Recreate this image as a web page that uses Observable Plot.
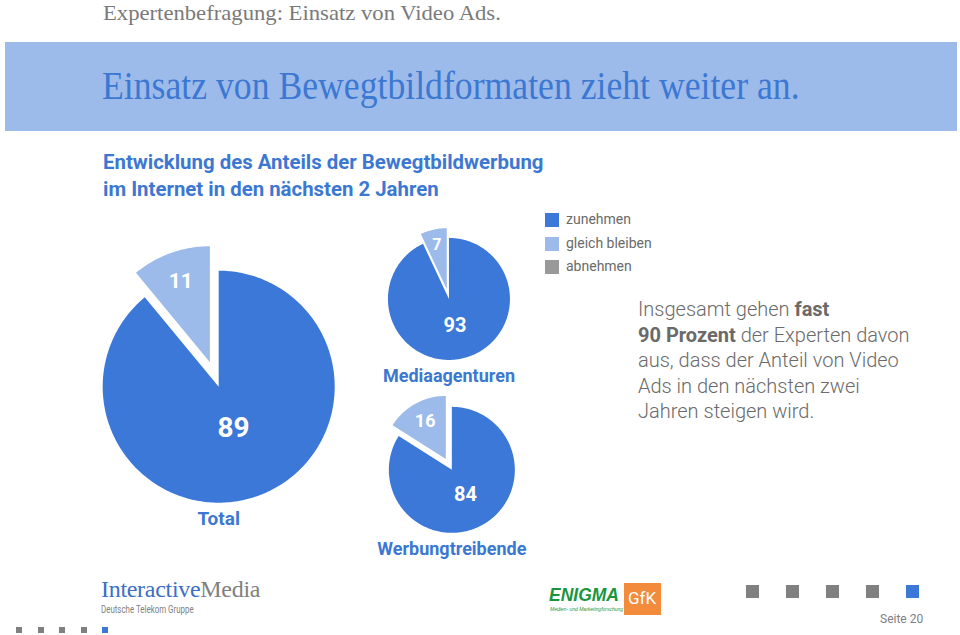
<!DOCTYPE html>
<html>
<head>
<meta charset="utf-8">
<script src="https://cdn.jsdelivr.net/npm/d3@7"></script>
<script src="https://cdn.jsdelivr.net/npm/@observablehq/plot@0.6"></script>
<style>
  html, body { margin: 0; padding: 0; background: #fff; }
  #page { position: relative; width: 960px; height: 635px; overflow: hidden; background: #fff; }
  .abs { position: absolute; white-space: nowrap; }
  .serif { font-family: "Liberation Serif", "DejaVu Serif", serif; }
  .narrow { font-family: "Liberation Sans Narrow", "Roboto", "Liberation Sans", sans-serif; }
  .sans { font-family: "Roboto", "Liberation Sans", sans-serif; }
  .pie svg { background: transparent; }
</style>
</head>
<body>
<div id="page">
  <div class="abs serif" style="left:103px;top:0px;font-size:22px;color:#7a7a7a;transform:scaleX(1.03);transform-origin:left;">Expertenbefragung: Einsatz von Video Ads.</div>
  <div class="abs" style="left:5px;top:42px;width:952px;height:89px;background:#9dbbea;"></div>
  <div class="abs serif" style="left:102px;top:63px;font-size:39px;color:#3c78d2;transform:scaleX(0.915);transform-origin:left;">Einsatz von Bewegtbildformaten zieht weiter an.</div>

  <div class="abs narrow" style="left:103px;top:149px;font-size:20.4px;font-weight:bold;color:#3c78d2;line-height:27px;">Entwicklung des Anteils der Bewegtbildwerbung<br>im Internet in den nächsten 2 Jahren</div>

  <div id="legend"></div>

  <div class="abs sans" style="left:638px;top:297px;font-size:20px;font-weight:300;color:#6a6a6a;line-height:25.5px;">Insgesamt gehen <b style="font-weight:bold;">fast</b><br><b style="font-weight:bold;">90 Prozent</b> der Experten davon<br>aus, dass der Anteil von Video<br>Ads in den nächsten zwei<br>Jahren steigen wird.</div>

  <div id="pies"></div>

  <!-- footer -->
  <div class="abs serif" style="left:101px;top:579px;font-size:24px;line-height:20px;letter-spacing:-0.3px;"><span style="color:#3c6fc6;">Interactive</span><span style="color:#808080;">Media</span></div>
  <div class="abs sans" style="left:101px;top:603px;font-size:11px;line-height:13px;color:#808080;transform:scaleX(0.72);transform-origin:left;">Deutsche Telekom Gruppe</div>
  <div class="abs" style="left:549px;top:585px;font-family:'Liberation Sans',sans-serif;font-size:17.5px;line-height:20px;font-weight:bold;font-style:italic;color:#19963c;">ENIGMA</div>
  <div class="abs" style="left:550px;top:606px;font-family:'Liberation Sans',sans-serif;font-size:5px;line-height:6px;font-style:italic;color:#19963c;">Medien- und Marketingforschung</div>
  <div class="abs" style="left:624px;top:583px;width:37px;height:32px;background:#f28c3c;"></div>
  <div class="abs sans" style="left:628px;top:588px;font-size:17px;line-height:20px;color:#fff;">GfK</div>
  <div id="squares"></div>
  <div class="abs sans" style="left:880px;top:612px;font-size:12px;color:#808080;">Seite 20</div>
</div>
<script>
// ---------- data ----------
const categories = ["zunehmen", "gleich bleiben", "abnehmen"];
const categoryColors = ["#3b78d8", "#9cbbeb", "#999999"];
const groups = ["Total", "Mediaagenturen", "Werbungtreibende"];
const zunehmen = [89, 93, 84];
const gleichBleiben = [11, 7, 16];
const abnehmen = [0, 0, 0];

// ---------- layout (pixels) ----------
const pieLayout = [
  {cx: 218, cy: 386, r: 116, explode: 26, mainR: 0.38, smallR: 0.74, mainSize: 28, smallSize: 21, titleDy: 132, titleSize: 19},
  {cx: 448.5, cy: 298.5, r: 61, explode: 10, mainR: 0.45, smallR: 0.75, mainSize: 20, smallSize: 16, titleDy: 77, titleSize: 18},
  {cx: 451.5, cy: 469.5, r: 63, explode: 12.5, mainR: 0.45, smallR: 0.68, mainSize: 20, smallSize: 18, titleDy: 79, titleSize: 18}
];
const EXT = 1.45;

const seriesValues = [zunehmen, gleichBleiben, abnehmen];
const labelFont = '"Liberation Sans Narrow", "Roboto", "Liberation Sans", sans-serif';

const piesDiv = document.getElementById("pies");
groups.forEach((g, gi) => {
  const L = pieLayout[gi];
  const values = seriesValues.map(s => s[gi]);
  const total = d3.sum(values);
  const pts = [];
  const labels = [];
  let cum = 0;
  values.forEach((v, ci) => {
    if (v <= 0) { return; }
    const a0 = cum / total * 2 * Math.PI;
    const a1 = (cum + v) / total * 2 * Math.PI;
    cum += v;
    const mid = (a0 + a1) / 2;
    const e = ci === 0 ? 0 : L.explode / L.r;
    const ox = Math.sin(mid) * e, oy = Math.cos(mid) * e;
    const key = g + "-" + ci;
    pts.push({x: ox, y: oy, slice: key, category: categories[ci]});
    const n = Math.max(4, Math.ceil((a1 - a0) * 180 / Math.PI));
    for (let k = 0; k <= n; k++) {
      const a = a0 + (a1 - a0) * k / n;
      pts.push({x: ox + Math.sin(a), y: oy + Math.cos(a), slice: key, category: categories[ci]});
    }
    pts.push({x: ox, y: oy, slice: key, category: categories[ci]});
    const lr = ci === 0 ? L.mainR : e + L.smallR;
    labels.push({x: Math.sin(mid) * lr, y: Math.cos(mid) * lr, value: v, main: ci === 0});
  });
  const size = 2 * EXT * L.r;
  const plot = Plot.plot({
    width: size, height: size,
    margin: 0, inset: 0,
    x: {domain: [-EXT, EXT], axis: null},
    y: {domain: [-EXT, EXT], axis: null},
    color: {domain: categories, range: categoryColors},
    style: {background: "transparent", overflow: "visible"},
    marks: [
      Plot.line(pts, {x: "x", y: "y", z: "slice", fill: "category", stroke: "none", curve: "linear"}),
      Plot.text(labels.filter(d => d.main), {x: "x", y: "y", text: "value", fill: "white", fontSize: L.mainSize, fontWeight: "bold", fontFamily: labelFont}),
      Plot.text(labels.filter(d => !d.main), {x: "x", y: "y", text: "value", fill: "white", fontSize: L.smallSize, fontWeight: "bold", fontFamily: labelFont}),
      Plot.text([g], {x: () => 0, y: () => -L.titleDy / L.r, text: d => d, fill: "#3c78d2", fontSize: L.titleSize, fontWeight: "bold", fontFamily: labelFont})
    ]
  });
  const wrap = document.createElement("div");
  wrap.className = "abs pie";
  wrap.style.left = (L.cx - size / 2) + "px";
  wrap.style.top = (L.cy - size / 2) + "px";
  wrap.appendChild(plot);
  piesDiv.appendChild(wrap);
});

// legend
const legend = document.getElementById("legend");
categories.forEach((c, i) => {
  const sw = document.createElement("div");
  sw.className = "abs";
  sw.style.cssText = `left:545px;top:${213 + i * 23.5}px;width:14px;height:14px;background:${categoryColors[i]};`;
  legend.appendChild(sw);
  const t = document.createElement("div");
  t.className = "abs sans";
  t.style.cssText = `left:566px;top:${211 + i * 23.5}px;font-size:14px;color:#6a6a6a;`;
  t.textContent = c;
  legend.appendChild(t);
});

// footer page-indicator squares
const sq = document.getElementById("squares");
for (let i = 0; i < 5; i++) {
  const s = document.createElement("div");
  s.className = "abs";
  s.style.cssText = `left:${746 + i * 40}px;top:585px;width:13px;height:13px;background:${i === 4 ? "#3b78d8" : "#808080"};`;
  sq.appendChild(s);
  const s2 = document.createElement("div");
  s2.className = "abs";
  s2.style.cssText = `left:${16 + i * 21.5}px;top:627px;width:6px;height:6px;background:${i === 4 ? "#3b78d8" : "#808080"};`;
  sq.appendChild(s2);
}
</script>
</body>
</html>
